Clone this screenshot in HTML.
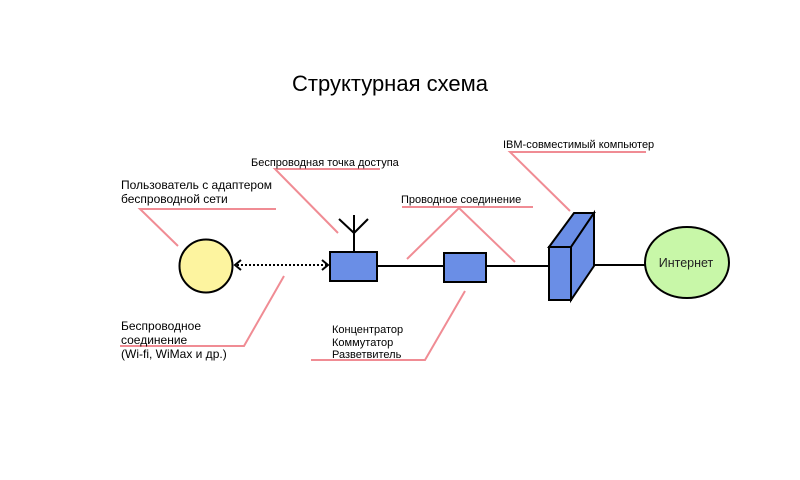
<!DOCTYPE html>
<html><head><meta charset="utf-8"><style>
body{margin:0;background:#fff;}
svg{display:block;font-family:"Liberation Sans","DejaVu Sans",sans-serif;}
</style></head><body>
<svg width="800" height="480" viewBox="0 0 800 480">
<text x="390" y="91" font-size="22" text-anchor="middle" fill="#000">Структурная схема</text>
<g stroke="#f08c94" stroke-width="2" fill="none">
<polyline points="276,209 140,209 178,246"/>
<polyline points="380,169 275,169 338,233"/>
<polyline points="533,207 402,207"/>
<polyline points="407,259 459,208 515,262"/>
<polyline points="646,152 510,152 570,211"/>
<polyline points="120,346 244,346 284,276"/>
<polyline points="311,360 425,360 465,291"/>
</g>
<g font-size="12" fill="#000">
<text x="121" y="189">Пользователь с адаптером</text>
<text x="121" y="203">беспроводной сети</text>
<text x="251" y="166" font-size="11">Беспроводная точка доступа</text>
<text x="401" y="203" font-size="11">Проводное соединение</text>
<text x="503" y="148" font-size="11">IBM-совместимый компьютер</text>
<text x="121" y="330">Беспроводное</text>
<text x="121" y="344">соединение</text>
<text x="121" y="358">(Wi-fi, WiMax и др.)</text>
<text x="332" y="333" font-size="11">Концентратор</text>
<text x="332" y="346" font-size="11">Коммутатор</text>
<text x="332" y="358" font-size="11">Разветвитель</text>
</g>
<g stroke="#000" stroke-width="2" fill="none">
<line x1="377" y1="266" x2="443" y2="266"/>
<line x1="486" y1="266" x2="549" y2="266"/>
<line x1="594" y1="265" x2="645" y2="265"/>
<line x1="354" y1="252" x2="354" y2="215"/>
<line x1="354" y1="233" x2="339" y2="219"/>
<line x1="354" y1="233" x2="368" y2="219"/>
<line x1="237" y1="265" x2="328" y2="265" stroke-dasharray="2,2"/>
<polyline points="241,260 235,265 241,270"/>
<polyline points="322,260 328,265 322,270"/>
</g>
<circle cx="206" cy="266" r="26.5" fill="#fdf49f" stroke="#000" stroke-width="2"/>
<rect x="330" y="252" width="47" height="29" fill="#6a8ee6" stroke="#000" stroke-width="2"/>
<rect x="444" y="253" width="42" height="29" fill="#6a8ee6" stroke="#000" stroke-width="2"/>
<polygon points="549,247 574,213 594,213 571,247" fill="#6a8ee6" stroke="#000" stroke-width="2"/>
<polygon points="571,247 594,213 594,266 571,300" fill="#6a8ee6" stroke="#000" stroke-width="2"/>
<rect x="549" y="247" width="22" height="53" fill="#6a8ee6" stroke="#000" stroke-width="2"/>
<ellipse cx="687" cy="262.5" rx="42" ry="35.5" fill="#c8f7a8" stroke="#000" stroke-width="2"/>
<text x="686" y="267" font-size="12.5" text-anchor="middle" fill="#222">Интернет</text>
</svg>
</body></html>
